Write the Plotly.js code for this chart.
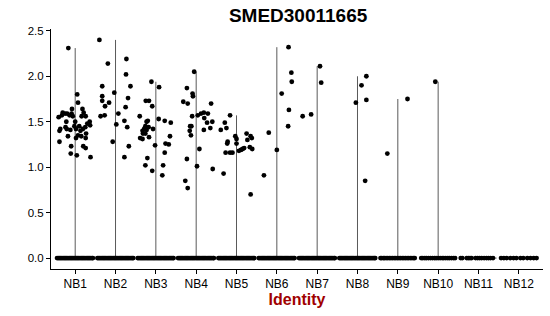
<!DOCTYPE html>
<html>
<head>
<meta charset="utf-8">
<script src="https://cdn.plot.ly/plotly-3.0.1.min.js"></script>
<style>html,body{margin:0;padding:0;background:#fff;}#chart{width:550px;height:316px;}</style>
</head>
<body>
<div id="chart"></div>
<script>
const groups = ['NB1','NB2','NB3','NB4','NB5','NB6','NB7','NB8','NB9','NB10','NB11','NB12'];
const yTickVals = [0, 0.5, 1.0, 1.5, 2.0, 2.5];
const yTickText = ['0.0','0.5','1.0','1.5','2.0','2.5'];

// non-zero expression values and their horizontal jitter
const nb1Values = [2.31,1.80,1.71,1.60,1.59,1.57,1.55,1.59,1.57,1.64,1.59,1.56,1.64,1.60,1.56,1.56,1.48,1.50,1.46,1.44,1.42,1.40,1.37,1.34,1.32,1.50,1.45,1.42,1.35,1.32,1.41,1.44,1.42,1.42,1.40,1.28,1.34,1.23,1.23,1.21,1.15,1.13,1.11,1.45,1.50];
const nb1Jitter = [-0.17,0.05,0.07,-0.31,-0.25,-0.33,-0.41,-0.20,-0.14,-0.08,-0.09,-0.06,0.18,0.21,0.16,0.26,0.30,0.36,0.37,0.25,0.19,0.13,0.27,0.15,0.26,0.0,-0.02,0.02,0.07,0.02,-0.12,-0.24,-0.21,-0.37,-0.39,-0.39,-0.18,-0.10,0.20,0.26,-0.11,0.04,0.38,0.10,-0.22];
const nb2Values = [2.40,2.14,2.19,2.02,1.89,1.89,1.82,1.78,1.73,1.71,1.76,1.67,1.66,1.56,1.57,1.59,1.51,1.47,1.44,1.28,1.23,1.11];
const nb2Jitter = [-0.40,-0.19,0.27,0.26,-0.33,0.37,-0.03,-0.33,-0.33,-0.16,0.31,-0.26,0.25,-0.37,-0.27,0.07,0.22,0.02,0.29,-0.07,0.33,0.22];
const nb3Values = [1.94,1.88,1.73,1.73,1.67,1.56,1.51,1.50,1.53,1.51,1.49,1.45,1.42,1.44,1.41,1.40,1.37,1.37,1.32,1.31,1.33,1.42,1.24,1.34,1.26,1.25,1.16,1.10,1.02,0.96,1.02,0.91];
const nb3Jitter = [-0.11,0.08,-0.25,-0.17,-0.09,-0.40,-0.20,-0.23,0.07,0.22,0.37,-0.26,-0.29,-0.18,-0.23,-0.33,-0.26,-0.32,-0.39,-0.33,-0.17,-0.07,-0.02,0.35,0.24,0.32,0.22,-0.21,-0.26,-0.09,0.18,0.16];
const nb4Values = [2.05,1.87,1.81,1.78,1.72,1.70,1.70,1.56,1.57,1.59,1.60,1.59,1.54,1.49,1.50,1.43,1.41,1.45,1.45,1.40,1.35,1.20,1.09,1.01,0.98,0.85,0.77];
const nb4Jitter = [-0.05,-0.23,-0.09,-0.08,-0.32,-0.21,0.37,-0.10,0.04,0.12,0.19,0.29,0.20,0.27,0.40,0.35,0.19,-0.15,-0.12,-0.16,-0.13,0.08,-0.23,0.02,0.41,-0.27,-0.21];
const nb5Values = [1.57,1.49,1.43,1.41,1.28,1.26,1.16,1.16,1.16,1.34,1.31,1.26,1.18,1.19,1.20,1.21,1.37,1.30,1.34,1.32,1.22,1.20,0.93,0.70];
const nb5Jitter = [-0.16,-0.29,-0.25,-0.39,-0.22,-0.23,-0.27,-0.16,-0.10,-0.03,0.0,0.0,0.06,0.11,0.15,0.19,0.25,0.27,0.35,0.38,0.33,0.39,-0.32,0.35];
const nb6Values = [1.38,0.91,1.19,2.32,2.04,1.94,1.81,1.63,1.45];
const nb6Jitter = [-0.20,-0.32,0.0,0.29,0.36,0.37,0.12,0.30,0.28];
const nb7Values = [1.56,1.58,2.11,1.93];
const nb7Jitter = [-0.36,-0.15,0.07,0.10];
const nb8Values = [2.00,1.90,1.71,1.74,0.85];
const nb8Jitter = [0.22,0.10,-0.04,0.22,0.19];
const nb9Values = [1.15,1.75];
const nb9Jitter = [-0.26,0.24];
const nb10Values = [1.94];
const nb10Jitter = [-0.07];
const nb11Values = [];
const nb11Jitter = [];
const nb12Values = [];
const nb12Jitter = [];

// jitter of the cells with zero expression
const zeroJitterDense = [-0.45,-0.42,-0.39,-0.36,-0.33,-0.30,-0.27,-0.24,-0.21,-0.18,-0.15,-0.12,-0.09,-0.06,-0.03,0.00,0.03,0.06,0.09,0.12,0.15,0.18,0.21,0.24,0.27,0.30,0.33,0.36,0.39,0.42,0.44];
const zeroJitterNB9 = [-0.43,-0.40,-0.36,-0.33,-0.29,-0.25,-0.21,-0.17,-0.13,-0.09,-0.05,-0.01,0.03,0.07,0.11,0.15,0.19,0.23,0.27,0.31,0.35,0.39,0.42];
const zeroJitterNB10 = [-0.42,-0.38,-0.33,-0.29,-0.24,-0.19,-0.14,-0.09,-0.05,0.00,0.05,0.10,0.14,0.19,0.24,0.28,0.33,0.38,0.42];
const zeroJitterNB11 = [-0.44,-0.40,-0.29,-0.25,-0.21,-0.17,-0.07,-0.02,0.03,0.08,0.14,0.20,0.25,0.30,0.36];
const zeroJitterNB12 = [-0.44,-0.37,-0.30,-0.21,-0.13,-0.06,0.04,0.11,0.21,0.29,0.37,0.44];

const groupValues = [nb1Values,nb2Values,nb3Values,nb4Values,nb5Values,nb6Values,nb7Values,nb8Values,nb9Values,nb10Values,nb11Values,nb12Values];
const groupJitter = [nb1Jitter,nb2Jitter,nb3Jitter,nb4Jitter,nb5Jitter,nb6Jitter,nb7Jitter,nb8Jitter,nb9Jitter,nb10Jitter,nb11Jitter,nb12Jitter];
const zeroJitter = [zeroJitterDense,zeroJitterDense,zeroJitterDense,zeroJitterDense,zeroJitterDense,zeroJitterDense,zeroJitterDense,zeroJitterDense,zeroJitterNB9,zeroJitterNB10,zeroJitterNB11,zeroJitterNB12];

const violinHalfWidth = 0.45;
const traces = [];

// violin outlines (degenerate: a spike at 0 and a thin stem up to the max value)
const vx = [], vy = [];
groups.forEach((g, i) => {
  const vmax = groupValues[i].length ? Math.max(...groupValues[i]) : 0;
  vx.push(i - violinHalfWidth, i + violinHalfWidth, null, i, i, null);
  vy.push(0, 0, null, 0, vmax, null);
});
traces.push({x: vx, y: vy, type: 'scatter', mode: 'lines', line: {color: 'rgb(90,90,90)', width: 1}, hoverinfo: 'skip', showlegend: false});

// points
const px = [], py = [];
groups.forEach((g, i) => {
  zeroJitter[i].forEach(j => { px.push(i + j); py.push(0); });
  groupValues[i].forEach((v, k) => { px.push(i + groupJitter[i][k]); py.push(v); });
});
traces.push({x: px, y: py, type: 'scatter', mode: 'markers', marker: {color: '#000', size: 4.8, line: {width: 0}}, showlegend: false});

const font = 'Liberation Sans, Arial, sans-serif';
const layout = {
  width: 550, height: 316,
  margin: {l: 51, r: 7, t: 29, b: 47},
  paper_bgcolor: '#fff', plot_bgcolor: '#fff',
  font: {family: font, color: '#000', size: 12},
  title: {text: '<b>SMED30011665</b>', font: {family: font, size: 19, color: '#000'}, x: 0.542, xanchor: 'center', y: 0.952, yanchor: 'middle'},
  xaxis: {
    range: [-0.6, 11.6], tickmode: 'array', tickvals: groups.map((g, i) => i), ticktext: groups,
    showgrid: false, zeroline: false, showline: true, linecolor: '#000', linewidth: 1,
    ticks: 'outside', ticklen: 4, tickcolor: '#000', tickfont: {size: 12, color: '#000'},
    title: {text: '<b>Identity</b>', font: {size: 16, color: '#a00000'}, standoff: 2}
  },
  yaxis: {
    range: [-0.12, 2.52], tickmode: 'array', tickvals: yTickVals, ticktext: yTickText,
    showgrid: false, zeroline: false, showline: true, linecolor: '#000', linewidth: 1,
    ticks: 'outside', ticklen: 4, tickcolor: '#000', tickfont: {size: 11.5, color: '#000'}
  }
};
Plotly.newPlot('chart', traces, layout, {displayModeBar: false, staticPlot: true});
</script>
</body>
</html>
